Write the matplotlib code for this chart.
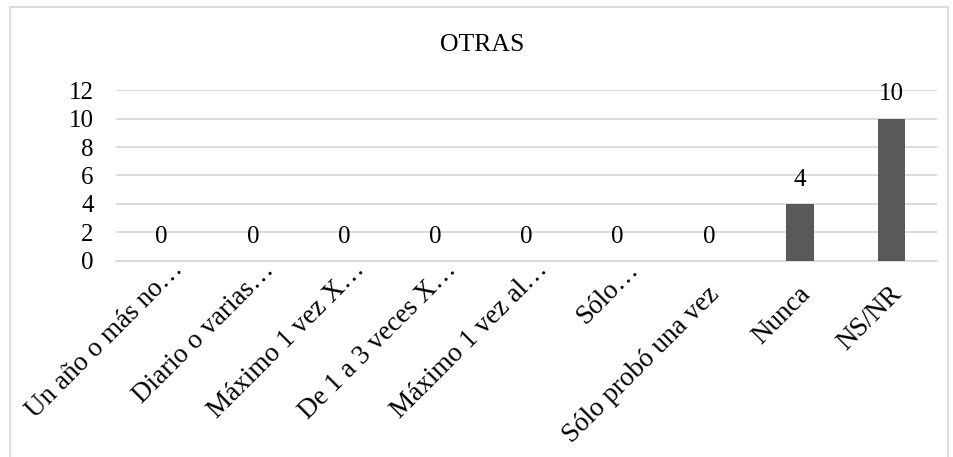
import matplotlib.pyplot as plt
import matplotlib.patches as patches
from matplotlib.transforms import ScaledTranslation

categorias = ['Un año o más no…', 'Diario o varias…', 'Máximo 1 vez X…',
              'De 1 a 3 veces X…', 'Máximo 1 vez al…', 'Sólo…',
              'Sólo probó una vez', 'Nunca', 'NS/NR']
valores = [0, 0, 0, 0, 0, 0, 0, 4, 10]
yticks = [0, 2, 4, 6, 8, 10, 12]

plt.rcParams['font.family'] = ['Liberation Serif', 'DejaVu Serif']

fig = plt.figure(figsize=(9.54, 4.57), dpi=100)
ax = fig.add_axes([0.1216, 0.429, 0.982 - 0.1216, 0.803 - 0.429])

x = range(len(categorias))
bars = ax.bar(x, valores, width=0.3, color='#595959', zorder=3)

ax.set_xlim(-0.5, len(categorias) - 0.5)
ax.set_ylim(0, 12)
ax.set_yticks(yticks)
ax.set_yticklabels([str(v) for v in yticks], fontsize=18)
ax.grid(axis='y', color='#d9d9d9', linewidth=1.3, zorder=0)
ax.set_axisbelow(True)

ax.set_xticks(list(x))
ax.set_xticklabels([])
ax.tick_params(axis='y', length=0, pad=16)
ax.tick_params(axis='x', length=0)

for s in ['top', 'right', 'left']:
    ax.spines[s].set_visible(False)
ax.spines['bottom'].set_color('#d9d9d9')
ax.spines['bottom'].set_linewidth(1.3)

# category labels, rotated like Excel does it; truncated ones sit a bit higher
for i, lab in enumerate(categorias):
    if lab.endswith('…'):
        dx, dy = 8.4, -3.9
    else:
        dx, dy = -1.8, 20.8
    tr = ax.get_xaxis_transform() + ScaledTranslation(dx / 100, -dy / 100, fig.dpi_scale_trans)
    ax.text(i, 0, lab, transform=tr, rotation=45, rotation_mode='anchor',
            ha='right', va='top', fontsize=19.5, clip_on=False)

for b, v in zip(bars, valores):
    ax.annotate(str(v), (b.get_x() + b.get_width() / 2, v),
                xytext=(0, 13), textcoords='offset points',
                ha='center', va='baseline', fontsize=18)

fig.text(0.505, 1 - 51 / 457, 'OTRAS', ha='center', va='baseline', fontsize=18.5)

# light frame around the chart area
frame = patches.Rectangle((10 / 954, -0.05), 938 / 954, 1 - 7 / 457 + 0.05,
                          transform=fig.transFigure, fill=False,
                          edgecolor='#d9d9d9', linewidth=1.3, clip_on=False)
fig.add_artist(frame)

fig.savefig('out.png', dpi=100)
